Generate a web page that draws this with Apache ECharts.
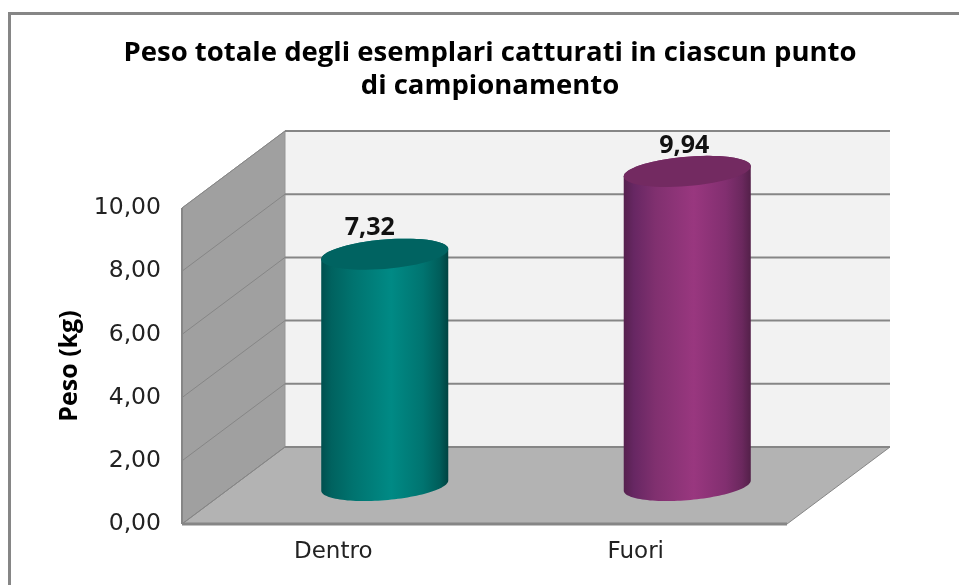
<!DOCTYPE html>
<html>
<head>
<meta charset="utf-8">
<style>html,body{margin:0;padding:0;background:#fff;}</style>
<script src="https://cdn.jsdelivr.net/npm/echarts@6/dist/echarts.min.js"></script>
</head>
<body>
<div id="chart" style="width:959px;height:585px;"></div>
<script>
var categories = ['Dentro', 'Fuori'];
var pesoValues = [7.32, 9.94];
var valueLabels = ['7,32', '9,94'];

// depth of the fake 3d box, pixels
var depthX = 103, depthY = -77;
var gridColor = '#868686';
var labelShift = [-15, -3];
var sideColors = [
    [[0, '#00504f'], [0.08, '#00625f'], [0.25, '#00736f'], [0.55, '#008a85'], [0.8, '#007470'], [0.93, '#005e5b'], [1, '#004341']],
    [[0, '#56214e'], [0.08, '#672763'], [0.25, '#80306f'], [0.55, '#99377f'], [0.8, '#822f70'], [0.93, '#6b285e'], [1, '#532049']]
];
var topColors = ['#006361', '#732a61'];

function gradient(stops) {
    return new echarts.graphic.LinearGradient(0, 0, 1, 0, stops.map(function (s) {
        return {offset: s[0], color: s[1]};
    }));
}

var renderBox = function (params, api) {
    var cs = params.coordSys;
    var x0 = cs.x, x1 = cs.x + cs.width, yb = cs.y + cs.height;
    var children = [];
    children.push({type: 'polygon', shape: {points: [[x0 + depthX, yb + depthY], [x1 + depthX, yb + depthY], [x1 + depthX, cs.y + depthY], [x0 + depthX, cs.y + depthY]]}, style: {fill: '#f2f2f2'}});
    children.push({type: 'polygon', shape: {points: [[x0, yb], [x0 + depthX, yb + depthY], [x0 + depthX, cs.y + depthY], [x0, cs.y]]}, style: {fill: '#a0a0a0', stroke: '#969696', lineWidth: 1}});
    children.push({type: 'polygon', shape: {points: [[x0, yb], [x1, yb], [x1 + depthX, yb + depthY], [x0 + depthX, yb + depthY]]}, style: {fill: '#b3b3b3', stroke: gridColor, lineWidth: 1}});
    for (var v = 0; v <= 10; v += 2) {
        var y = api.coord([0, v])[1];
        children.push({type: 'line', shape: {x1: x0, y1: y, x2: x0 + depthX, y2: y + depthY}, style: {stroke: gridColor, lineWidth: 1}});
        children.push({type: 'line', shape: {x1: x0 + depthX, y1: y + depthY, x2: x1 + depthX, y2: y + depthY}, style: {stroke: gridColor, lineWidth: 2}});
    }
    children.push({type: 'line', shape: {x1: x0, y1: yb, x2: x1, y2: yb}, style: {stroke: gridColor, lineWidth: 3}});
    children.push({type: 'line', shape: {x1: x0, y1: cs.y, x2: x0, y2: yb}, style: {stroke: gridColor, lineWidth: 2}});
    return {type: 'group', children: children};
};

// sheared ellipse outline, the disc of the cylinder leans up to the right
function discPoints(cx, cy, rx, ry, slope, from, to) {
    var pts = [];
    for (var i = 0; i <= 60; i++) {
        var a = from + (to - from) * i / 60;
        var px = rx * Math.cos(a);
        pts.push([cx + px, cy + ry * Math.sin(a) + slope * px]);
    }
    return pts;
}

var renderCylinder = function (params, api) {
    var i = api.value(0);
    var top = api.coord([i, api.value(1)]);
    var base = api.coord([i, 0]);
    var band = api.size([1, 0])[0];
    var rx = band * 0.21;
    var ry = 14.7, slope = -0.08;
    var cx = top[0] + depthX / 2;
    var topY = top[1] + depthY / 2, baseY = base[1] + depthY / 2;
    var side = discPoints(cx, baseY, rx, ry, slope, 0, Math.PI)
        .concat(discPoints(cx, topY, rx, ry, slope, Math.PI, 2 * Math.PI));
    return {type: 'group', children: [
        {type: 'polygon', shape: {points: side}, style: {fill: gradient(sideColors[i])}},
        {type: 'polygon', shape: {points: discPoints(cx, topY, rx, ry, slope, 0, 2 * Math.PI)}, style: {fill: topColors[i]}},
        {type: 'text', x: cx + labelShift[i], y: topY - 26, style: {text: valueLabels[i], fill: '#111', font: 'bold 25px "Open Sans"', align: 'center', verticalAlign: 'middle'}}
    ]};
};

var chart = echarts.init(document.getElementById('chart'), null, {renderer: 'canvas'});
chart.setOption({
    animation: false,
    backgroundColor: '#fff',
    title: {
        text: 'Peso totale degli esemplari catturati in ciascun punto\ndi campionamento',
        left: 485, top: 32, textAlign: 'center',
        textStyle: {fontFamily: 'Open Sans', fontWeight: 'bold', fontSize: 27.5, lineHeight: 33, color: '#000'}
    },
    graphic: [{type: 'polyline', silent: true, shape: {points: [[9.5, 600], [9.5, 13.5], [960, 13.5]]}, style: {fill: 'none', stroke: gridColor, lineWidth: 3}, z: -1}],
    grid: {left: 182, top: 208, width: 605, height: 316},
    xAxis: {
        type: 'category', data: categories,
        axisLine: {show: false}, axisTick: {show: false}, splitLine: {show: false},
        axisLabel: {fontFamily: 'DejaVu Sans', fontSize: 23, color: '#222', margin: 17}
    },
    yAxis: {
        type: 'value', min: 0, max: 10, interval: 2,
        name: 'Peso (kg)', nameLocation: 'middle', nameGap: 99, nameRotate: 90,
        nameTextStyle: {fontFamily: 'Open Sans', fontWeight: 'bold', fontSize: 25, color: '#000'},
        axisLine: {show: false}, axisTick: {show: false}, splitLine: {show: false},
        axisLabel: {fontFamily: 'DejaVu Sans', fontSize: 23.5, color: '#222', margin: 21, padding: [8, 0, 0, 0],
            formatter: function (v) { return v.toFixed(2).replace('.', ','); }}
    },
    series: [
        {type: 'custom', name: 'box', renderItem: renderBox, data: [[0, 0]], silent: true, z: 1},
        {type: 'custom', name: 'Peso', renderItem: renderCylinder, z: 2,
            encode: {x: 0, y: 1},
            data: pesoValues.map(function (v, i) { return [i, v]; })}
    ]
});
window.onresize = function () {
    chart.resize();
};
</script>
</body>
</html>
